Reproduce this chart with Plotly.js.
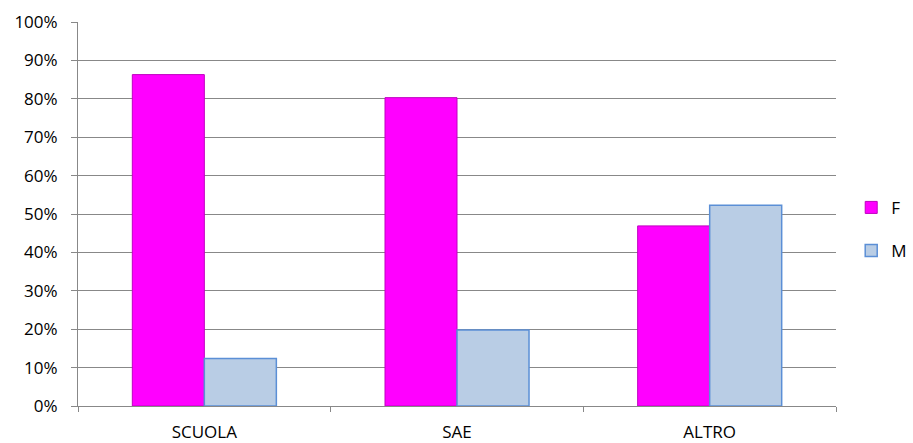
<!DOCTYPE html>
<html>
<head>
<meta charset="utf-8">
<script src="https://cdn.plot.ly/plotly-3.0.1.min.js"></script>
<style>html,body{margin:0;padding:0;background:#fff;}#chart{width:913px;height:443px;}</style>
</head>
<body>
<div id="chart"></div>
<script>
const categories = ["SCUOLA", "SAE", "ALTRO"];
const seriesF = [0.863, 0.803, 0.469];
const seriesM = [0.124, 0.198, 0.523];
const yTickValues = [0, 0.1, 0.2, 0.3, 0.4, 0.5, 0.6, 0.7, 0.8, 0.9, 1.0];

const traces = [
  {type: "bar", name: "F", x: categories, y: seriesF, legendgroup: "F",
   marker: {color: "#FF00FF", line: {color: "#C000C0", width: 1}}},
  {type: "bar", name: "M", x: categories, y: seriesM, legendgroup: "M",
   marker: {color: "#B9CDE5", line: {color: "#5B8FD6", width: 1.5}}}
];

const layout = {
  width: 913, height: 443,
  margin: {l: 78, r: 0, t: 22, b: 37},
  paper_bgcolor: "#fff", plot_bgcolor: "#fff",
  font: {family: "Open Sans, Liberation Sans, sans-serif", size: 17, color: "#000"},
  barmode: "group",
  bargap: 0.43,
  bargroupgap: 0,
  showlegend: true,
  legend: {x: 0.926, xanchor: "left", y: 0.46, yanchor: "middle",
           traceorder: "grouped", tracegroupgap: 18,
           itemwidth: 30, font: {size: 17}},
  xaxis: {type: "category", domain: [0, 0.9078],
          showline: true, linecolor: "#888", linewidth: 1,
          ticks: "outside", tickson: "boundaries", ticklen: 5, tickcolor: "#888",
          ticklabelstandoff: 11,
          showgrid: false, zeroline: false, tickfont: {size: 17}},
  yaxis: {range: [0, 1], tickvals: yTickValues, tickformat: ".0%",
          showline: true, linecolor: "#888", linewidth: 1,
          ticks: "outside", ticklen: 6, tickcolor: "#888",
          ticklabelstandoff: 10,
          showgrid: true, gridcolor: "#888", gridwidth: 1,
          zeroline: false, tickfont: {size: 17}}
};

Plotly.newPlot("chart", traces, layout, {displayModeBar: false, staticPlot: true});
</script>
</body>
</html>
